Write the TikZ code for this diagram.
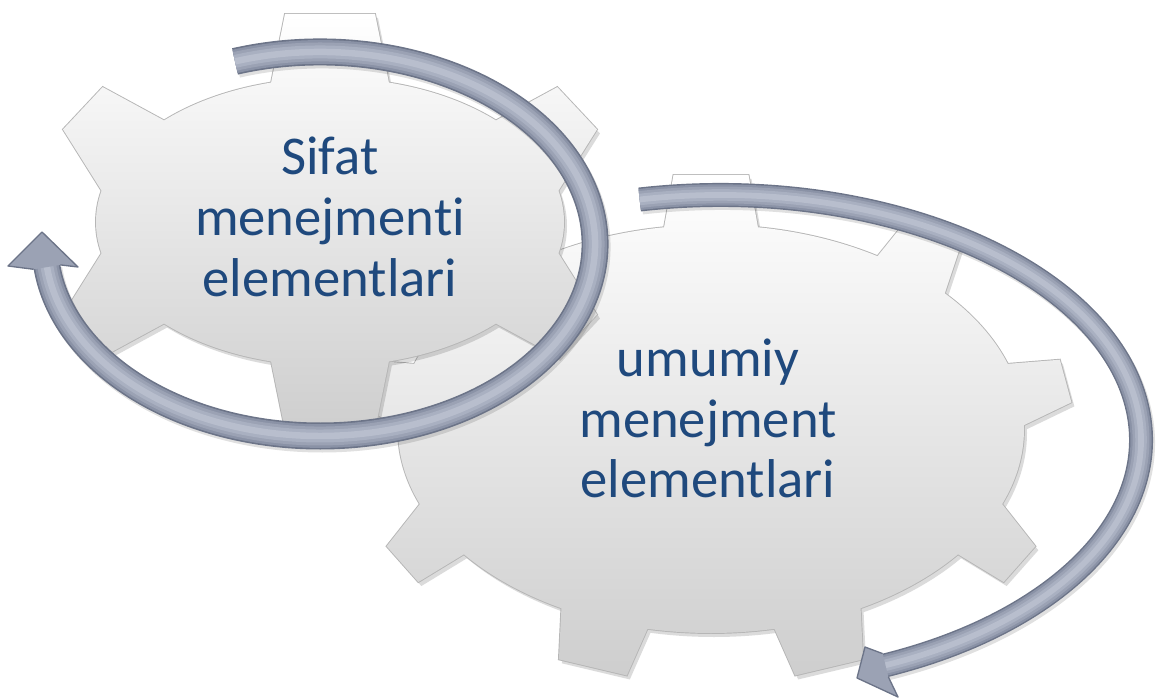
\documentclass[tikz,border=0pt]{standalone}
\usepackage{fontspec}
\setmainfont{Carlito}[Ligatures={NoCommon},RawFeature={-liga;-dlig;-clig}]
\definecolor{txtblue}{RGB}{31,73,125}
\definecolor{gearedge}{RGB}{182,182,182}
\definecolor{geartop}{RGB}{255,255,255}
\definecolor{gearbot}{RGB}{206,206,206}
\definecolor{arrA}{RGB}{108,116,136}
\definecolor{arrB}{RGB}{138,146,166}
\definecolor{arrC}{RGB}{155,162,180}
\definecolor{arrD}{RGB}{169,176,193}
\definecolor{arrE}{RGB}{184,190,205}
\tikzset{
  declare function={
    gnx(\t,\a,\b)=(\b/100)*cos(\t)/sqrt(((\b/100)*cos(\t))^2+((\a/100)*sin(\t))^2);
    gny(\t,\a,\b)=(\a/100)*sin(\t)/sqrt(((\b/100)*cos(\t))^2+((\a/100)*sin(\t))^2);
  },
  gearshadow/.style={fill=black,opacity=0.14},
  gearline/.style={draw=gearedge,line width=1.4pt},
  gearfill/.style={top color=geartop,bottom color=gearbot},
  gtext/.style={text=txtblue,font=\fontsize{41}{43}\selectfont,inner sep=0pt,anchor=base},
  arrowshadow/.style={draw=black,opacity=0.12},
  headstyle/.style={fill=arrC,draw=arrA,line width=1pt,line join=round},
}
% #1 options, #2 cx, #3 cy, #4 A, #5 B, #6 teeth macro t/tiphalf/basehalf/height
\newcommand\gearpath[6]{%
  \path[#1] ({#2+#4},#3) arc[start angle=0,end angle=360,x radius=#4,y radius=#5] -- cycle
  \foreach \t/\th/\bw/\h in #6 {
    ({#2+#4*cos(\t)-10*gnx(\t,#4,#5)+\bw*gny(\t,#4,#5)},{#3+#5*sin(\t)-10*gny(\t,#4,#5)-\bw*gnx(\t,#4,#5)})
    -- ({#2+#4*cos(\t)+\h*gnx(\t,#4,#5)+\th*gny(\t,#4,#5)},{#3+#5*sin(\t)+\h*gny(\t,#4,#5)-\th*gnx(\t,#4,#5)})
    -- ({#2+#4*cos(\t)+\h*gnx(\t,#4,#5)-\th*gny(\t,#4,#5)},{#3+#5*sin(\t)+\h*gny(\t,#4,#5)+\th*gnx(\t,#4,#5)})
    -- ({#2+#4*cos(\t)-10*gnx(\t,#4,#5)-\bw*gny(\t,#4,#5)},{#3+#5*sin(\t)-10*gny(\t,#4,#5)+\bw*gnx(\t,#4,#5)})
    -- cycle
  };}
\newcommand\gearteethA{270/45/60/64,90/45/60/64,210/29/47.6/61,330/29/47.6/61,150/29/47.6/61,30/29/47.6/61}
\newcommand\gearteethB{270/37.5/48.3/50,310/29/39.8/50,230/29/39.8/50,350/22.1/32.9/48,190/22.1/32.9/48,30/23.9/34.7/50,150/23.9/34.7/50,70/34.9/45.7/48,110/34.9/45.7/48}
% #1 cx, #2 cy, #3 rx, #4 ry, #5 t1, #6 t2, #7 width px
\newcommand\ringband[7]{%
  \draw[arrowshadow,line width={#7*0.75pt}] ([shift={(#1+2,#2+3)}]#5:#3 and #4) arc[start angle=#5,end angle=#6,x radius=#3,y radius=#4];
  \foreach \w/\c in {1/arrA,0.88/arrB,0.7/arrC,0.48/arrD,0.24/arrE}{
    \draw[\c,line width={\w*#7*0.75pt}] ([shift={(#1,#2)}]#5:#3 and #4) arc[start angle=#5,end angle=#6,x radius=#3,y radius=#4];
  }}
\begin{document}
\begin{tikzpicture}[x=0.75pt,y=-0.75pt]
\useasboundingbox (0,0) rectangle (1156,698);
% large gear (behind)
\gearpath{gearshadow,shift={(3,4)}}{711}{429}{313}{204}{\gearteethB}
\gearpath{gearline}{711}{429}{313}{204}{\gearteethB}
\gearpath{gearfill}{711}{429}{313}{204}{\gearteethB}
% small gear
\gearpath{gearshadow,shift={(3,4)}}{330}{222}{234}{144}{\gearteethA}
\gearpath{gearline}{330}{222}{234}{144}{\gearteethA}
\gearpath{gearfill}{330}{222}{234}{144}{\gearteethA}
% texts
\node[gtext] (s1) at (330,175) {Sifat};
\node[gtext] (s2) at (330,236) {menejment\kern0pt{}i};
\node[gtext] (s3) at (330,297) {elementlari};
\node[gtext] (u1) at (708,377) {umumiy};
\node[gtext] (u2) at (708,437) {menejment};
\node[gtext] (u3) at (708,497) {elementlari};
% arrow around small gear
\ringband{320}{244}{275}{192}{252}{533.4}{27}
\coordinate (a1s1) at (60.3,264.9);
\coordinate (a1b1) at (78,267);
\coordinate (a1tip) at (42,232);
\coordinate (a1b2) at (8,266);
\coordinate (a1s2) at (33.7,269.3);
\path[headstyle] (a1s1) -- (a1b1) -- (a1tip) -- (a1b2) -- (a1s2);
% arrow around large gear
\ringband{720}{440}{421}{245}{259}{427}{24}
\coordinate (a2s1) at (888.4,677);
\coordinate (a2b1) at (898,697);
\coordinate (a2tip) at (857,678);
\coordinate (a2b2) at (865,647);
\coordinate (a2s2) at (882.6,653.6);
\path[headstyle] (a2s1) -- (a2b1) -- (a2tip) -- (a2b2) -- (a2s2);
\end{tikzpicture}
\end{document}
